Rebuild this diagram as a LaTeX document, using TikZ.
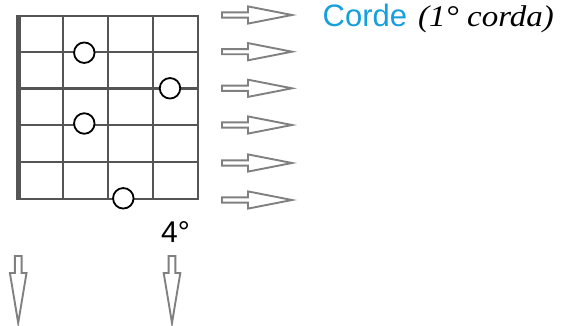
\documentclass[tikz,border=0pt]{standalone}
\usepackage{fontspec}
\setmainfont{Liberation Serif}
\newfontfamily\sansf{Liberation Sans}
\definecolor{cordeblue}{RGB}{22,160,219}
\definecolor{gridgray}{RGB}{85,85,85}
\definecolor{arrowgray}{RGB}{128,128,128}
\tikzset{
  gridline/.style={draw=gridgray, line width=2.5pt},
  nutbar/.style={draw=gridgray, line width=5pt},
  fingerdot/.style={circle, draw=black, line width=1.8pt, fill=white, minimum size=20.5pt, inner sep=0pt},
  arrowline/.style={draw=arrowgray, fill=white, line width=1.9pt, line join=miter},
  label/.style={anchor=base west, inner sep=0pt},
  rarrow/.pic={\path[arrowline] (0,-2.6) -- (26,-2.6) -- (26,-8.6) -- (70,0) -- (26,8.6) -- (26,2.6) -- (0,2.6) -- cycle;},
  darrow/.pic={\path[arrowline] (-3.4,0) -- (-3.4,17) -- (-8.3,17) -- (0,67) -- (8.3,17) -- (3.4,17) -- (3.4,0) -- cycle;}
}
\begin{document}
\begin{tikzpicture}[x=1pt,y=-1pt]
\useasboundingbox (0,0) rectangle (564,326);
% grid
\foreach \yy in {16,52,88.5,125,162,199} \draw[gridline] (19,\yy) -- (198,\yy);
\foreach \xx in {63,108,153,198} \draw[gridline] (\xx,14.75) -- (\xx,200.25);
\draw[nutbar] (18.5,14.75) -- (18.5,200.25);
% finger positions
\node[fingerdot] (d1) at (84.3,52.7) {};
\node[fingerdot] (d2) at (170,88.3) {};
\node[fingerdot] (d3) at (84.3,123.5) {};
\node[fingerdot] (d4) at (123.3,198.3) {};
% string arrows
\foreach \yy [count=\i] in {15,51.7,88.3,125,163,200} \pic (s\i) at (222,\yy) {rarrow};
% fret arrows
\pic (f1) at (18.2,256) {darrow};
\pic (f2) at (172,256) {darrow};
% texts
\node[label, text=cordeblue, font=\sansf\fontsize{31}{36}\selectfont] (corde) at (322.5,27) {Corde};
\node[label, font=\itshape\fontsize{30}{36}\selectfont] (corda) at (418,27) {\scalebox{1.1}[1]{(1° corda)}};
\node[label, font=\sansf\fontsize{30}{34}\selectfont] (fret) at (161,242) {4°};
\end{tikzpicture}
\end{document}
